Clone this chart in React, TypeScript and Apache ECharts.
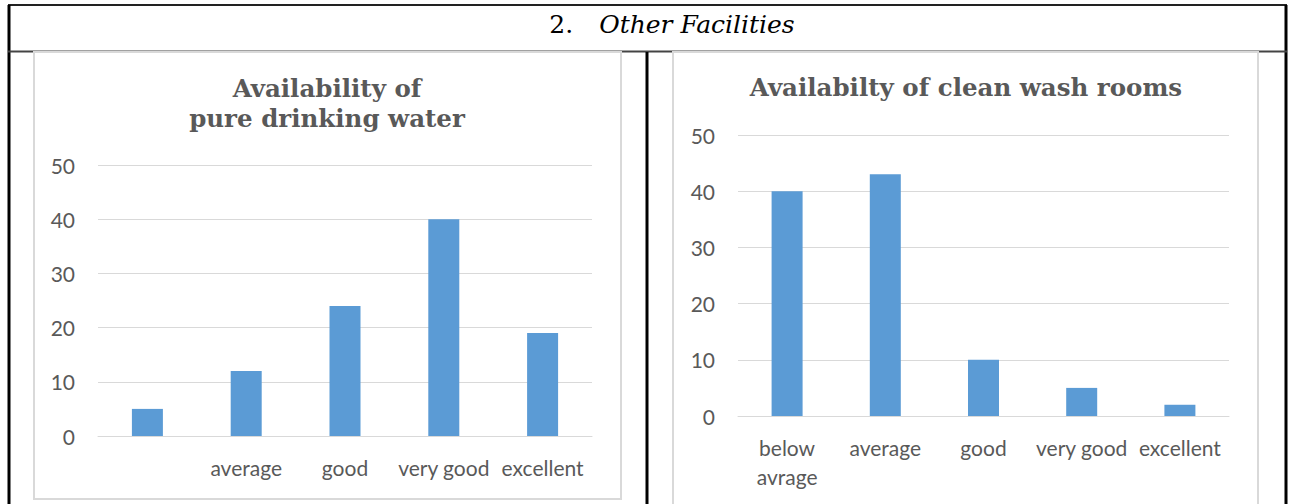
import React, { useEffect, useRef } from "react";
import * as echarts from "echarts";

const headerNumber = "2.";
const headerText = "Other Facilities";

const leftTitle = "Availability of\npure drinking water";
const leftCategories = ["", "average", "good", "very good", "excellent"];
const leftValues = [5, 12, 24, 40, 19];

const rightTitle = "Availabilty of clean wash rooms";
const rightCategories = ["below\navrage", "average", "good", "very good", "excellent"];
const rightValues = [40, 43, 10, 5, 2];

const yTicks = { min: 0, max: 50, interval: 10 };

const BAR = "#5b9bd5";
const GRID = "#d9d9d9";
const TXT = "#595959";
const LABEL_FONT = "Lato, 'Open Sans', sans-serif";
const TITLE_FONT = "'DejaVu Serif', serif";

export default function App() {
  const ref = useRef<HTMLDivElement>(null);

  useEffect(() => {
    if (!ref.current) return;
    const chart = echarts.init(ref.current, undefined, { renderer: "svg" });

    const xAxisBase = (data: string[], gridIndex: number) => ({
      type: "category" as const,
      gridIndex,
      data,
      axisLine: { show: true, lineStyle: { color: GRID, width: 1 } },
      axisTick: { show: false },
      axisLabel: {
        interval: 0,
        color: TXT,
        fontFamily: LABEL_FONT,
        fontSize: 21,
        lineHeight: 29,
        margin: 17,
      },
    });
    const yAxisBase = (gridIndex: number) => ({
      type: "value" as const,
      gridIndex,
      min: yTicks.min,
      max: yTicks.max,
      interval: yTicks.interval,
      axisLine: { show: false },
      axisTick: { show: false },
      splitLine: { show: true, lineStyle: { color: GRID, width: 1 } },
      axisLabel: {
        color: TXT,
        fontFamily: LABEL_FONT,
        fontSize: 21,
        margin: 23,
      },
    });

    chart.setOption({
      animation: false,
      grid: [
        { left: 98, right: 1292 - 592, top: 165, bottom: 504 - 436 },
        { left: 738, right: 1292 - 1229, top: 135, bottom: 504 - 416 },
      ],
      xAxis: [xAxisBase(leftCategories, 0), xAxisBase(rightCategories, 1)],
      yAxis: [yAxisBase(0), yAxisBase(1)],
      series: [
        {
          type: "bar",
          xAxisIndex: 0,
          yAxisIndex: 0,
          data: leftValues,
          barWidth: 31,
          itemStyle: { color: BAR },
        },
        {
          type: "bar",
          xAxisIndex: 1,
          yAxisIndex: 1,
          data: rightValues,
          barWidth: 31,
          itemStyle: { color: BAR },
        },
      ],
      graphic: [
        // outer table lines
        { type: "line", shape: { x1: 8, y1: 5, x2: 1287, y2: 5 }, style: { stroke: "#222", lineWidth: 2 } },
        { type: "line", shape: { x1: 9, y1: 5, x2: 9, y2: 504 }, style: { stroke: "#000", lineWidth: 3 } },
        { type: "line", shape: { x1: 1286, y1: 5, x2: 1286, y2: 504 }, style: { stroke: "#000", lineWidth: 3 } },
        { type: "line", shape: { x1: 8, y1: 51.5, x2: 1287, y2: 51.5 }, style: { stroke: "#444", lineWidth: 2 } },
        { type: "line", shape: { x1: 647, y1: 52, x2: 647, y2: 504 }, style: { stroke: "#000", lineWidth: 3 } },
        // chart frames
        { type: "rect", shape: { x: 34, y: 52, width: 587, height: 447 }, style: { fill: "none", stroke: GRID, lineWidth: 2 } },
        { type: "rect", shape: { x: 673, y: 52, width: 585, height: 470 }, style: { fill: "none", stroke: GRID, lineWidth: 2 } },
        // header
        {
          type: "text",
          x: 672,
          y: 24,
          style: {
            text: `{n|${headerNumber}}{t|${headerText}}`,
            align: "center",
            verticalAlign: "middle",
            rich: {
              n: { fontFamily: TITLE_FONT, fontSize: 25, fill: "#000", fontWeight: "normal", padding: [0, 26, 0, 0] },
              t: { fontFamily: TITLE_FONT, fontSize: 25, fill: "#000", fontStyle: "italic" },
            },
          },
        },
        // chart titles
        {
          type: "text",
          x: 327,
          y: 103,
          style: {
            text: leftTitle,
            align: "center",
            verticalAlign: "middle",
            fontFamily: TITLE_FONT,
            fontWeight: "bold",
            fontSize: 24.5,
            lineHeight: 30,
            fill: TXT,
          },
        },
        {
          type: "text",
          x: 966,
          y: 87,
          style: {
            text: rightTitle,
            align: "center",
            verticalAlign: "middle",
            fontFamily: TITLE_FONT,
            fontWeight: "bold",
            fontSize: 24.5,
            fill: TXT,
          },
        },
      ],
    });

    return () => chart.dispose();
  }, []);

  return (
    <div
      ref={ref}
      style={{ position: "fixed", left: 0, top: 0, width: 1292, height: 504, background: "#fff" }}
    />
  );
}
